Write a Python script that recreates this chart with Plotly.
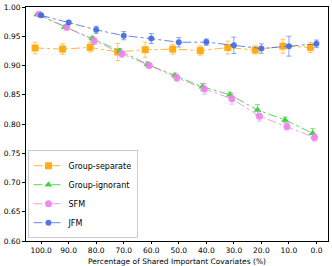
import plotly.graph_objects as go

categories = ["100.0", "90.0", "80.0", "70.0", "60.0", "50.0", "40.0", "30.0", "20.0", "10.0", "0.0"]

sep_vals = [0.930, 0.928, 0.931, 0.923, 0.927, 0.928, 0.9255, 0.9306, 0.9266, 0.933, 0.931]
sep_err = [0.010, 0.009, 0.008, 0.0145, 0.013, 0.0085, 0.008, 0.011, 0.007, 0.012, 0.0085]

ign_vals = [0.987, 0.966, 0.946, 0.925, 0.902, 0.883, 0.8635, 0.850, 0.824, 0.807, 0.784]
ign_err = [0.002, 0.003, 0.004, 0.004, 0.004, 0.004, 0.006, 0.0045, 0.009, 0.005, 0.008]

sfm_vals = [0.9875, 0.965, 0.942, 0.920, 0.900, 0.879, 0.860, 0.843, 0.8134, 0.7957, 0.777]
sfm_err = [0.002, 0.003, 0.006, 0.006, 0.004, 0.006, 0.009, 0.009, 0.0085, 0.006, 0.006]

jfm_vals = [0.9857, 0.9737, 0.961, 0.951, 0.946, 0.9396, 0.940, 0.9345, 0.929, 0.933, 0.937]
jfm_err = [0.002, 0.003, 0.006, 0.007, 0.0085, 0.008, 0.0055, 0.014, 0.008, 0.017, 0.0065]

x_title = "Percentage of Shared Important Covariates (%)"

series = [
    ("Group-separate", sep_vals, sep_err, "255,165,0", "square", -0.22, 7),
    ("Group-ignorant", ign_vals, ign_err, "50,205,50", "triangle-up", -0.14, 7),
    ("SFM", sfm_vals, sfm_err, "238,130,238", "circle", -0.07, 7),
    ("JFM", jfm_vals, jfm_err, "65,105,225", "circle", 0.0, 6),
]

fig = go.Figure()
for name, vals, err, rgb, sym, off, msize in series:
    xs = [i + off for i in range(len(categories))]
    fig.add_trace(go.Scatter(
        x=xs, y=vals, name=name, mode="lines+markers",
        line=dict(color=f"rgba({rgb},0.8)", width=1, dash="dashdot"),
        marker=dict(symbol=sym, size=msize, color=f"rgba({rgb},0.9)", line=dict(width=0)),
        error_y=dict(type="data", array=err, visible=True, color=f"rgba({rgb},0.6)",
                     thickness=1, width=2.5),
    ))

font = dict(family="DejaVu Sans", size=8, color="black")
tick_font = dict(family="DejaVu Sans", size=7.5, color="black")
fig.update_layout(
    width=332, height=266,
    margin=dict(l=26, r=4, t=7, b=25, autoexpand=False),
    plot_bgcolor="white", paper_bgcolor="white",
    font=font,
    showlegend=True,
    legend=dict(x=0.005, y=0.012, xanchor="left", yanchor="bottom",
                bgcolor="rgba(255,255,255,0.8)", bordercolor="#cccccc", borderwidth=1,
                font=dict(family="DejaVu Sans", size=8), tracegroupgap=0,
                itemwidth=30),
    xaxis=dict(
        range=[-0.55, 10.42], automargin=False,
        tickmode="array", tickvals=list(range(len(categories))), ticktext=categories,
        showgrid=False, zeroline=False, showline=True, mirror=True,
        linecolor="black", linewidth=1, ticks="outside", ticklen=2, tickcolor="black",
        tickfont=tick_font,
    ),
    yaxis=dict(
        range=[0.6, 1.0], automargin=False,
        tickmode="array", tickvals=[0.6, 0.65, 0.7, 0.75, 0.8, 0.85, 0.9, 0.95, 1.0],
        ticktext=["0.60", "0.65", "0.70", "0.75", "0.80", "0.85", "0.90", "0.95", "1.00"],
        showgrid=False, zeroline=False, showline=True, mirror=True,
        linecolor="black", linewidth=1, ticks="outside", ticklen=3, tickcolor="black",
        tickfont=tick_font,
    ),
    annotations=[dict(text=x_title, xref="paper", yref="paper", x=0.5, y=0,
                      xanchor="center", yanchor="top", yshift=-14, showarrow=False,
                      font=tick_font)],
)

fig.write_html("out.html", config={"displayModeBar": False},
               post_script="document.body.style.margin='0';")
